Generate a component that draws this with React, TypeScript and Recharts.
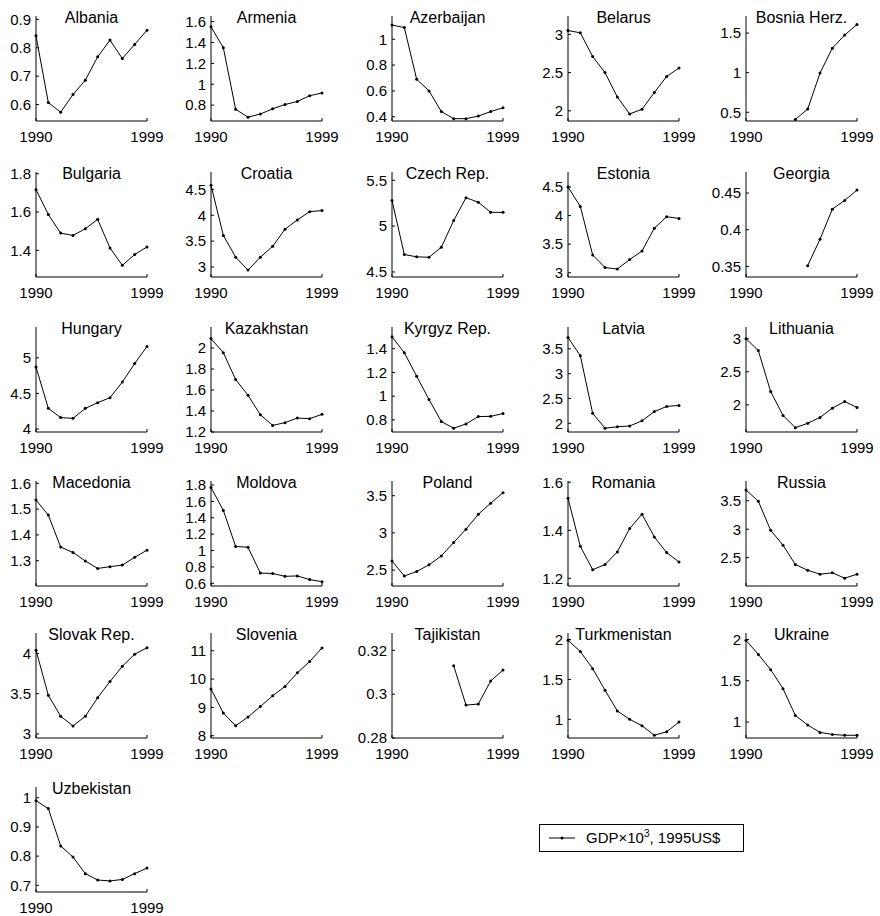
import { LineChart, Line, XAxis, YAxis } from 'recharts';

// years on the x axis
const years = [1990, 1991, 1992, 1993, 1994, 1995, 1996, 1997, 1998, 1999];

// GDP x 10^3, 1995 US$
const albania = [0.842, 0.607, 0.573, 0.635, 0.686, 0.768, 0.827, 0.762, 0.812, 0.862];
const armenia = [1.55, 1.35, 0.76, 0.685, 0.715, 0.765, 0.806, 0.835, 0.89, 0.917];
const azerbaijan = [1.11, 1.09, 0.69, 0.6, 0.44, 0.385, 0.385, 0.405, 0.44, 0.47];
const belarus = [3.05, 3.02, 2.71, 2.5, 2.18, 1.96, 2.02, 2.24, 2.45, 2.56];
const bosnia = [null, null, null, null, 0.41, 0.54, 0.995, 1.31, 1.475, 1.61];
const bulgaria = [1.717, 1.587, 1.49, 1.478, 1.513, 1.562, 1.412, 1.322, 1.378, 1.418];
const croatia = [4.58, 3.61, 3.19, 2.94, 3.19, 3.4, 3.73, 3.91, 4.07, 4.09];
const czech = [5.28, 4.69, 4.665, 4.66, 4.77, 5.06, 5.31, 5.26, 5.15, 5.15];
const estonia = [4.5, 4.16, 3.31, 3.09, 3.065, 3.23, 3.38, 3.78, 3.98, 3.95];
const georgia = [null, null, null, null, null, 0.351, 0.387, 0.428, 0.44, 0.454];
const hungary = [4.87, 4.29, 4.16, 4.15, 4.29, 4.37, 4.44, 4.66, 4.92, 5.16];
const kazakhstan = [2.09, 1.955, 1.7, 1.55, 1.365, 1.263, 1.289, 1.333, 1.327, 1.368];
const kyrgyz = [1.5, 1.366, 1.168, 0.972, 0.786, 0.73, 0.766, 0.828, 0.83, 0.853];
const latvia = [3.73, 3.36, 2.2, 1.9, 1.93, 1.945, 2.05, 2.235, 2.34, 2.36];
const lithuania = [3.0, 2.82, 2.2, 1.84, 1.655, 1.72, 1.81, 1.95, 2.05, 1.96];
const macedonia = [1.535, 1.477, 1.353, 1.332, 1.299, 1.27, 1.277, 1.283, 1.313, 1.341];
const moldova = [1.77, 1.49, 1.05, 1.04, 0.725, 0.72, 0.685, 0.69, 0.645, 0.62];
const poland = [2.62, 2.42, 2.48, 2.57, 2.69, 2.87, 3.05, 3.25, 3.4, 3.54];
const romania = [1.533, 1.333, 1.236, 1.257, 1.31, 1.407, 1.467, 1.372, 1.307, 1.268];
const russia = [3.69, 3.49, 2.98, 2.72, 2.38, 2.28, 2.21, 2.235, 2.14, 2.21];
const slovakia = [4.04, 3.48, 3.22, 3.1, 3.22, 3.45, 3.65, 3.84, 3.99, 4.07];
const slovenia = [9.65, 8.8, 8.35, 8.66, 9.03, 9.41, 9.74, 10.22, 10.62, 11.1];
const tajikistan = [null, null, null, null, null, 0.313, 0.295, 0.2955, 0.306, 0.311];
const turkmenistan = [1.99, 1.85, 1.635, 1.365, 1.105, 1.0, 0.92, 0.8, 0.845, 0.965];
const ukraine = [1.99, 1.82, 1.635, 1.405, 1.08, 0.965, 0.875, 0.85, 0.84, 0.84];
const uzbekistan = [0.99, 0.963, 0.835, 0.797, 0.74, 0.718, 0.715, 0.72, 0.74, 0.759];

const countries = [
  'Albania', 'Armenia', 'Azerbaijan', 'Belarus', 'Bosnia Herz.',
  'Bulgaria', 'Croatia', 'Czech Rep.', 'Estonia', 'Georgia',
  'Hungary', 'Kazakhstan', 'Kyrgyz Rep.', 'Latvia', 'Lithuania',
  'Macedonia', 'Moldova', 'Poland', 'Romania', 'Russia',
  'Slovak Rep.', 'Slovenia', 'Tajikistan', 'Turkmenistan', 'Ukraine',
  'Uzbekistan',
];
const series = [
  albania, armenia, azerbaijan, belarus, bosnia,
  bulgaria, croatia, czech, estonia, georgia,
  hungary, kazakhstan, kyrgyz, latvia, lithuania,
  macedonia, moldova, poland, romania, russia,
  slovakia, slovenia, tajikistan, turkmenistan, ukraine,
  uzbekistan,
];

// y range of each small plot
const yDomains: [number, number][] = [
  [0.542, 0.912], [0.648, 1.654], [0.367, 1.18], [1.867, 3.24], [0.39, 1.716],
  [1.261, 1.809], [2.807, 4.836], [4.445, 5.59], [2.925, 4.763], [0.3355, 0.4787],
  [3.958, 5.433], [1.2, 2.2], [0.698, 1.583], [1.824, 3.94], [1.589, 3.177],
  [1.202, 1.609], [0.567, 1.849], [2.285, 3.698], [1.168, 1.605], [2.003, 3.846],
  [2.95, 4.253], [7.92, 11.626], [0.28, 0.3279], [0.766, 2.082], [0.807, 2.079],
  [0.677, 1.037],
];

// y tick labels
const yTicks: number[][] = [
  [0.6, 0.7, 0.8, 0.9], [0.8, 1, 1.2, 1.4, 1.6], [0.4, 0.6, 0.8, 1], [2, 2.5, 3], [0.5, 1, 1.5],
  [1.4, 1.6, 1.8], [3, 3.5, 4, 4.5], [4.5, 5, 5.5], [3, 3.5, 4, 4.5], [0.35, 0.4, 0.45],
  [4, 4.5, 5], [1.2, 1.4, 1.6, 1.8, 2], [0.8, 1, 1.2, 1.4], [2, 2.5, 3, 3.5], [2, 2.5, 3],
  [1.3, 1.4, 1.5, 1.6], [0.6, 0.8, 1, 1.2, 1.4, 1.6, 1.8], [2.5, 3, 3.5], [1.2, 1.4, 1.6], [2.5, 3, 3.5],
  [3, 3.5, 4], [8, 9, 10, 11], [0.28, 0.3, 0.32], [1, 1.5, 2], [1, 1.5, 2],
  [0.7, 0.8, 0.9, 1],
];

const xTicks = [1990, 1999];

// layout
const AXIS_X = [36, 211, 392, 568, 746];
const PLOT_TOP = [16, 172, 327, 481, 633, 787];
const PLOT_W = 111;
const PLOT_H = 105;
const Y_AXIS_W = 36;
const X_AXIS_H = 24;
const M_TOP = 8;
const M_RIGHT = 24;
const FONT = '"Liberation Sans", Arial, Helvetica, sans-serif';
const tickStyle = { fill: '#000', fontSize: 15, fontFamily: FONT };

function Panel({ idx }: { idx: number }) {
  const col = idx % 5;
  const row = Math.floor(idx / 5);
  const data = years.map((y, i) => ({ year: y, gdp: series[idx][i] }));

  return (
    <div style={{ position: 'absolute', left: AXIS_X[col] - Y_AXIS_W, top: PLOT_TOP[row] - M_TOP }}>
      <LineChart
        width={Y_AXIS_W + PLOT_W + M_RIGHT}
        height={M_TOP + PLOT_H + X_AXIS_H}
        data={data}
        margin={{ top: M_TOP, right: M_RIGHT, left: 0, bottom: 0 }}
      >
        <XAxis
          dataKey="year"
          type="number"
          domain={[1990, 1999]}
          ticks={xTicks}
          interval={0}
          height={X_AXIS_H}
          tickSize={-3}
          tickMargin={13}
          stroke="#000"
          tick={tickStyle}
        />
        <YAxis
          type="number"
          domain={yDomains[idx]}
          ticks={yTicks[idx]}
          interval={0}
          allowDataOverflow
          width={Y_AXIS_W}
          tickSize={-3}
          tickMargin={8}
          stroke="#000"
          tick={tickStyle}
        />
        <Line
          dataKey="gdp"
          stroke="#000"
          strokeWidth={1}
          dot={{ r: 1.5, fill: '#000', stroke: 'none' }}
          isAnimationActive={false}
        />
      </LineChart>
      {/* title of each small plot */}
      <div
        style={{
          position: 'absolute',
          left: Y_AXIS_W,
          width: PLOT_W,
          top: M_TOP - 7,
          textAlign: 'center',
          fontFamily: FONT,
          fontSize: 16,
          lineHeight: '18px',
          whiteSpace: 'nowrap',
        }}
      >
        {countries[idx]}
      </div>
    </div>
  );
}

export default function App() {
  return (
    <div style={{ position: 'absolute', left: 0, top: 0, width: 880, height: 916, background: '#fff' }}>
      {countries.map((_, i) => (
        <Panel key={i} idx={i} />
      ))}
      {/* legend */}
      <div
        style={{
          position: 'absolute',
          left: 539,
          top: 824,
          width: 205,
          height: 28,
          border: '1px solid #000',
          boxSizing: 'border-box',
          fontFamily: FONT,
          fontSize: 15,
        }}
      >
        <svg width={26} height={6} style={{ position: 'absolute', left: 9, top: 10 }}>
          <line x1={0} y1={3} x2={26} y2={3} stroke="#000" strokeWidth={1} />
          <circle cx={13} cy={3} r={1.5} fill="#000" />
        </svg>
        <span style={{ position: 'absolute', left: 46, top: 4, lineHeight: '17px', whiteSpace: 'nowrap' }}>
          GDP×10<sup style={{ fontSize: 10, verticalAlign: 'top', position: 'relative', top: -4 }}>3</sup>, 1995US$
        </span>
      </div>
    </div>
  );
}
